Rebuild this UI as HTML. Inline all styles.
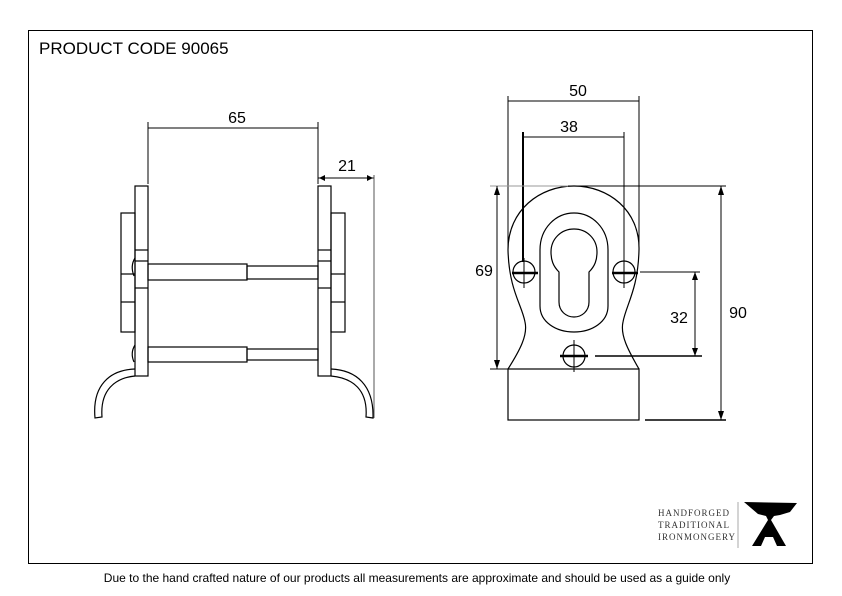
<!DOCTYPE html><html><head><style>body{margin:0;background:#fff}svg{display:block}</style></head><body>
<svg width="842" height="596" viewBox="0 0 842 596" xmlns="http://www.w3.org/2000/svg" font-family="Liberation Sans, sans-serif">
<rect x="28.5" y="30.5" width="784" height="533" fill="none" stroke="#000" stroke-width="1"/>
<text x="39" y="54" font-size="17">PRODUCT CODE 90065</text>
<text x="417" y="582" font-size="12" text-anchor="middle">Due to the hand crafted nature of our products all measurements are approximate and should be used as a guide only</text>
<g fill="none" stroke="#000" stroke-width="1.2">
<!-- left view -->
<rect x="121" y="213" width="14" height="119"/>
<line x1="121" y1="274" x2="135" y2="274"/><line x1="121" y1="302" x2="135" y2="302"/>
<rect x="135" y="186" width="13" height="190"/>
<line x1="135" y1="250" x2="148" y2="250"/><line x1="135" y1="261" x2="148" y2="261"/><line x1="135" y1="288" x2="148" y2="288"/>
<rect x="318" y="186" width="13" height="190"/>
<line x1="318" y1="250" x2="331" y2="250"/><line x1="318" y1="261" x2="331" y2="261"/><line x1="318" y1="288" x2="331" y2="288"/>
<rect x="331" y="213" width="14" height="119"/>
<line x1="331" y1="274" x2="345" y2="274"/><line x1="331" y1="302" x2="345" y2="302"/>
<rect x="148" y="264" width="99" height="16"/><rect x="247" y="266" width="71" height="13"/>
<rect x="148" y="347" width="99" height="15"/><rect x="247" y="349" width="71" height="11"/>
<path d="M135 258 Q130 266 134 276"/><path d="M135 345 Q130 353 134 362"/>
<path d="M135 369 C110 370 92 385 95 418 L102 417 C100 390 115 378 135 376"/>
<path d="M331 369 C356 370 374 385 373 418 L366 417 C368 390 353 378 331 376"/>
<!-- dims left -->
<g stroke-width="1"><line x1="148" y1="122" x2="148" y2="184"/><line x1="318" y1="122" x2="318" y2="184"/>
<line x1="148" y1="128" x2="318" y2="128"/><line x1="318" y1="178" x2="374" y2="178"/><line x1="374" y1="175" x2="374" y2="418" stroke="#555"/></g>
<!-- right view -->
<rect x="508" y="369" width="131" height="51"/>
<path d="M508 369 C520 350 528 335 525 322 C522 305 509 290 508 250 C508 210 540 186 574 186 C608 186 640 210 639 250 C638 290 626 305 623 322 C620 335 628 350 639 369"/>
<path d="M540 306 L540 250 C540 228 556 213 574 213 C592 213 608 228 608 250 L608 306 C608 322 592 332 574 332 C556 332 540 322 540 306Z"/>
<path d="M559 302 L559 272 C553 266 551 260 551 252 C551 239 561 229 574 229 C587 229 597 239 597 252 C597 260 595 266 589 272 L589 302 C589 311 582 317 574 317 C566 317 559 311 559 302Z"/>
<circle cx="524" cy="272" r="11"/><circle cx="624" cy="272" r="11"/><circle cx="574" cy="356" r="11"/>
<g stroke-width="2.5"><line x1="512" y1="273" x2="538" y2="273"/><line x1="612" y1="273" x2="638" y2="273"/><line x1="560" y1="356" x2="588" y2="356"/></g>
<g stroke-width="1"><line x1="524" y1="258" x2="524" y2="288"/><line x1="624" y1="258" x2="624" y2="288"/><line x1="574" y1="340" x2="574" y2="372"/></g>
<!-- dims right -->
<g stroke-width="1">
<line x1="508" y1="96" x2="508" y2="250"/><line x1="639" y1="96" x2="639" y2="250"/><line x1="508" y1="101" x2="639" y2="101"/>
<line x1="523" y1="132" x2="523" y2="262" stroke-width="2"/><line x1="624" y1="132" x2="624" y2="262"/><line x1="523" y1="137" x2="624" y2="137"/>
<line x1="490" y1="186" x2="568" y2="186" stroke="#999"/><line x1="568" y1="186" x2="726" y2="186"/>
<line x1="497" y1="186" x2="497" y2="369"/><line x1="490" y1="369" x2="508" y2="369"/>
<line x1="721" y1="186" x2="721" y2="420"/><line x1="645" y1="420" x2="726" y2="420" stroke-width="1.5"/>
<line x1="640" y1="272" x2="700" y2="272"/><line x1="595" y1="356" x2="702" y2="356" stroke-width="1.5"/><line x1="695" y1="272" x2="695" y2="356"/>
</g></g>
<g font-size="16" text-anchor="middle" fill="#000">
<text x="237" y="123">65</text><text x="347" y="171">21</text>
<text x="578" y="96">50</text><text x="569" y="132">38</text>
<text x="484" y="276">69</text><text x="679" y="323">32</text><text x="738" y="318">90</text>
</g>
<g fill="#000">
<polygon points="497,186 494,195 500,195"/><polygon points="497,369 494,360 500,360"/>
<polygon points="721,186 718,195 724,195"/><polygon points="721,420 718,411 724,411"/>
<polygon points="695,272 692,280 698,280"/><polygon points="695,356 692,348 698,348"/>
<polygon points="319,178 325,175 325,181"/><polygon points="373,178 367,175 367,181"/>
</g>
<g font-family="Liberation Serif, serif" font-size="9" fill="#333" letter-spacing="1">
<text x="658" y="516">HANDFORGED</text><text x="658" y="528">TRADITIONAL</text><text x="658" y="540">IRONMONGERY</text>
</g>
<line x1="738" y1="502" x2="738" y2="548" stroke="#aaa"/>
<g fill="#000">
<polygon points="744,502 797,503 790,512 780,515 774,516 771,520 786,546 777,546 773,537 765,537 761,546 752,546 768,520 766,516 758,514"/>
</g>
</svg>
</body></html>
